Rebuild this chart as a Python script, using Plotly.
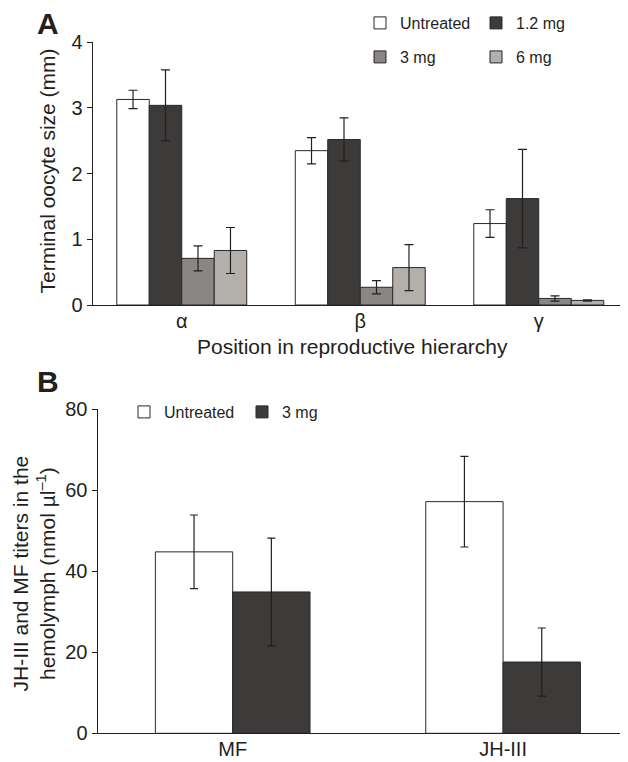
import plotly.graph_objects as go

# ---------------- data ----------------
groups_a = ["α", "β", "γ"]
series_a = ["Untreated", "1.2 mg", "3 mg", "6 mg"]
untreated_a = [3.13, 2.35, 1.24]
mg12_a = [3.04, 2.52, 1.62]
mg3_a = [0.71, 0.27, 0.10]
mg6_a = [0.83, 0.57, 0.07]
err_untreated_a = [0.14, 0.20, 0.21]
err_mg12_a = [0.54, 0.33, 0.75]
err_mg3_a = [0.19, 0.10, 0.04]
err_mg6_a = [0.35, 0.35, 0.01]

groups_b = ["MF", "JH-III"]
series_b = ["Untreated", "3 mg"]
untreated_b = [44.8, 57.2]
mg3_b = [34.9, 17.6]
err_untreated_b = [9.1, 11.2]
err_mg3_b = [13.3, 8.4]

ticks_a = [0, 1, 2, 3, 4]
ticks_b = [0, 20, 40, 60, 80]

# ---------------- styling ----------------
PAGE_PAD = 8            # default body margin of the page
W, H = 628 - PAGE_PAD, 762 - PAGE_PAD
FONT = "Liberation Sans, Arial, sans-serif"
INK = "#231f20"
C_WHITE = "#ffffff"
C_DARK = "#3d3a3a"
C_MID = "#8a8684"
C_LIGHT = "#b3afab"
EDGE = "#2a2828"


def py(px):
    return 1 - (px - PAGE_PAD) / H


def px_x(px):
    return (px - PAGE_PAD) / W


fig = go.Figure()

vals_a = [untreated_a, mg12_a, mg3_a, mg6_a]
errs_a = [err_untreated_a, err_mg12_a, err_mg3_a, err_mg6_a]
cols_a = [C_WHITE, C_DARK, C_MID, C_LIGHT]
legs_a = ["legend", "legend", "legend2", "legend2"]
wa = 0.182
offs_a = [-2 * wa, -wa, 0, wa]
for name, v, e, c, lg, off in zip(series_a, vals_a, errs_a, cols_a, legs_a, offs_a):
    fig.add_trace(go.Bar(
        x=groups_a, y=v, name=name, legend=lg,
        marker=dict(color=c, line=dict(color=EDGE, width=1)),
        width=wa, offset=off,
        error_y=dict(type="data", array=e, visible=True, color=INK, thickness=1.2, width=4.5),
        xaxis="x", yaxis="y",
    ))

vals_b = [untreated_b, mg3_b]
errs_b = [err_untreated_b, err_mg3_b]
cols_b = [C_WHITE, C_DARK]
wb = 0.286
offs_b = [-wb, 0]
for name, v, e, c, off in zip(series_b, vals_b, errs_b, cols_b, offs_b):
    fig.add_trace(go.Bar(
        x=groups_b, y=v, name=name, legend="legend3",
        marker=dict(color=c, line=dict(color=EDGE, width=1)),
        width=wb, offset=off,
        error_y=dict(type="data", array=e, visible=True, color=INK, thickness=1.2, width=4),
        xaxis="x2", yaxis="y2",
    ))

axis_common = dict(showline=True, linecolor=INK, linewidth=1, showgrid=False,
                   zeroline=False, automargin=False,
                   tickfont=dict(family=FONT, size=20, color=INK))

legend_common = dict(orientation="h", xanchor="left", yanchor="middle",
                     font=dict(family=FONT, size=16, color=INK),
                     bgcolor="rgba(0,0,0,0)", borderwidth=0, traceorder="normal")

fig.update_layout(
    template="none",
    width=W, height=H,
    margin=dict(l=0, r=0, t=0, b=0, autoexpand=False),
    paper_bgcolor="white", plot_bgcolor="white",
    barmode="overlay",
    font=dict(family=FONT, color=INK),
    xaxis=dict(domain=[px_x(92.5), 1], anchor="y", range=[-0.5, 2.5],
               ticks="", ticklabelstandoff=-2, **axis_common),
    yaxis=dict(domain=[py(305), py(42.3)], anchor="x", range=[0, 4], tickvals=ticks_a,
               ticks="outside", ticklen=5, tickcolor=INK, **axis_common),
    xaxis2=dict(domain=[px_x(97.5), 1], anchor="y2", range=[-0.5, 1.462],
                ticks="", ticklabelstandoff=-2, **axis_common),
    yaxis2=dict(domain=[py(733.3), py(409.3)], anchor="x2", range=[0, 80], tickvals=ticks_b,
                ticks="outside", ticklen=5, tickcolor=INK, **axis_common),
    legend=dict(x=px_x(360), y=py(23), entrywidth=71, **legend_common),
    legend2=dict(x=px_x(360), y=py(57), entrywidth=71, **legend_common),
    legend3=dict(x=px_x(124), y=py(412), entrywidth=73, **legend_common),
    annotations=[
        dict(text="<b>A</b>", x=px_x(47.5), y=py(23.5), xref="paper", yref="paper",
             xanchor="center", yanchor="middle", showarrow=False,
             font=dict(family=FONT, size=30, color=INK)),
        dict(text="<b>B</b>", x=px_x(47.5), y=py(381), xref="paper", yref="paper",
             xanchor="center", yanchor="middle", showarrow=False,
             font=dict(family=FONT, size=30, color=INK)),
        dict(text="Terminal oocyte size (mm)", x=px_x(47), y=py(171.5), xref="paper", yref="paper",
             xanchor="center", yanchor="middle", textangle=-90, showarrow=False,
             font=dict(family=FONT, size=21, color=INK)),
        dict(text="Position in reproductive hierarchy", x=px_x(353), y=py(346), xref="paper", yref="paper",
             xanchor="center", yanchor="middle", showarrow=False,
             font=dict(family=FONT, size=21, color=INK)),
        dict(text="JH-III and MF titers in the<br>hemolymph (nmol µl<sup>–1</sup>)",
             x=px_x(33), y=py(573.5), xref="paper", yref="paper",
             xanchor="center", yanchor="middle", textangle=-90, showarrow=False,
             font=dict(family=FONT, size=21, color=INK)),
    ],
)

fig.write_html("out.html")
